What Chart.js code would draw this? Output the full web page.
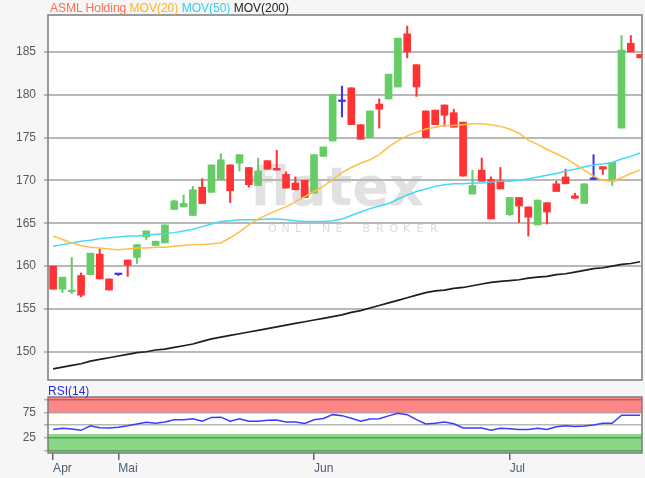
<!DOCTYPE html>
<html><head><meta charset="utf-8">
<script src="https://cdn.jsdelivr.net/npm/chart.js@4"></script>
<style>
html,body{margin:0;padding:0;background:#f6f6f6;width:645px;height:478px;overflow:hidden;font-family:"Liberation Sans",Arial,sans-serif;}
#wrap{position:relative;width:645px;height:478px;}
#main{position:absolute;left:0;top:0;}
#rsi{position:absolute;left:0;top:381px;}
#title{position:absolute;left:50px;top:1px;font-size:12px;line-height:14px;white-space:nowrap;}
#rsiLbl{position:absolute;left:48px;top:384px;font-size:12px;line-height:14px;color:#2a2ae8;}
</style></head>
<body><div id="wrap">
<canvas id="main" width="645" height="381"></canvas>
<canvas id="rsi" width="645" height="97"></canvas>
<div id="title"><span style="color:#ff6f4f">ASML Holding</span> <span style="color:#ffb128">MOV(20)</span> <span style="color:#33ccf2">MOV(50)</span> <span style="color:#222">MOV(200)</span></div>
<div id="rsiLbl">RSI(14)</div>
</div>
<script>
// ---- data ----
const opens  = [160.0,157.3,157.0,158.9,159.0,161.4,158.5,159.0,160.7,161.0,163.4,162.4,162.7,166.6,166.9,165.9,169.2,168.6,170.1,171.8,172.0,171.5,169.4,172.3,171.4,170.7,169.7,170.0,168.5,172.8,174.6,179.2,180.8,176.5,175.0,178.9,179.5,180.9,187.1,183.5,178.1,178.2,178.8,177.9,176.8,168.4,171.2,170.1,170.0,166.0,168.0,166.9,164.8,167.4,169.6,170.4,168.2,167.3,170.1,171.6,169.9,176.1,186.0,184.7];
const highs  = [160.0,158.7,161.0,159.2,161.5,162.0,158.5,159.1,160.7,162.5,164.1,162.9,164.8,167.7,168.3,169.3,170.2,171.8,173.1,171.8,173.0,171.5,172.6,172.3,173.5,171.0,170.4,170.0,173.0,173.9,180.0,181.0,180.8,176.5,178.1,179.5,182.4,186.6,188.0,183.5,178.1,178.2,178.8,178.3,176.8,171.2,172.6,170.4,171.5,168.0,168.0,166.9,167.7,167.4,169.9,171.3,168.5,169.6,173.0,171.6,172.1,186.9,186.9,184.7];
const lows   = [157.3,156.9,156.8,156.4,159.0,158.5,157.2,158.9,158.8,160.3,163.1,162.4,162.7,166.6,166.9,165.9,167.3,168.6,170.1,167.4,171.1,169.2,169.4,171.3,171.2,169.1,168.9,168.0,168.5,172.8,174.6,177.4,176.5,174.8,175.0,176.1,179.5,180.9,184.3,179.8,175.0,176.5,176.3,176.2,170.5,168.4,169.9,165.5,169.0,165.9,165.1,163.5,164.8,164.9,168.7,169.6,167.9,167.3,170.1,170.7,169.4,176.1,185.0,184.3];
const closes = [157.3,158.7,157.1,156.6,161.5,158.5,157.2,159.0,160.1,162.5,164.1,162.9,164.8,167.6,167.3,168.9,167.3,171.8,172.4,168.8,173.0,169.5,171.1,171.3,171.2,169.1,168.9,168.0,173.0,173.9,180.0,179.2,176.5,174.8,178.1,178.3,182.4,186.6,185.0,180.9,175.0,176.5,177.6,176.2,170.5,169.4,169.9,165.5,169.0,168.0,167.0,165.7,167.7,166.3,168.7,169.6,167.9,169.6,170.1,171.3,172.1,185.2,185.0,184.3];
const mov20  = [163.5,163.1,162.7,162.4,162.2,162.1,162.0,161.9,162.0,162.1,162.1,162.2,162.2,162.3,162.4,162.5,162.5,162.6,162.7,163.3,164.0,164.8,165.5,166.0,166.5,166.9,167.5,168.1,168.7,169.3,170.1,170.9,171.5,172.0,172.4,173.0,173.9,174.6,175.2,175.6,176.0,176.2,176.4,176.4,176.5,176.6,176.6,176.5,176.3,176.0,175.5,174.7,174.2,173.6,173.1,172.6,171.9,171.2,170.5,170.0,169.9,170.3,170.8,171.2];
const mov50  = [162.3,162.5,162.7,162.9,163.0,163.2,163.3,163.4,163.5,163.5,163.6,163.7,163.8,163.9,164.1,164.3,164.6,164.9,165.2,165.3,165.4,165.4,165.4,165.5,165.5,165.4,165.3,165.2,165.2,165.2,165.3,165.5,165.9,166.3,166.7,167.0,167.3,167.8,168.3,168.7,169.0,169.3,169.5,169.6,169.6,169.7,169.7,169.8,169.9,169.9,170.0,170.2,170.4,170.6,170.8,171.1,171.3,171.6,171.8,171.9,172.1,172.5,172.8,173.2];
const mov200 = [148.0,148.2,148.4,148.6,148.9,149.1,149.3,149.5,149.7,149.9,150.0,150.2,150.3,150.5,150.7,150.9,151.2,151.5,151.7,151.9,152.1,152.3,152.5,152.7,152.9,153.1,153.3,153.5,153.7,153.9,154.1,154.3,154.6,154.8,155.1,155.4,155.7,156.0,156.3,156.6,156.9,157.1,157.2,157.4,157.5,157.7,157.9,158.1,158.2,158.3,158.4,158.6,158.7,158.8,159.0,159.1,159.3,159.5,159.7,159.8,160.0,160.2,160.3,160.5];
const rsi14  = [41,43.5,42,39.5,48.5,44.5,44,45.5,48.5,52,55.5,53.5,56,60.5,60.5,62.5,57.5,65,65.5,57.5,62.5,57.5,57.5,59.5,60,56,56,53,60.5,63,70.5,68.5,63.5,57.5,62,62.5,68,73.4,70.5,60.5,52,53.4,55.7,52.5,44,44,44,39.5,43.6,42.8,41,41.2,43.5,41,46.4,48.5,47,48,50,53.4,53.4,69.4,69.4,69.4];
const priceTicks = [150,155,160,165,170,175,180,185];
const monthLabels = ['Apr','Mai','Jun','Jul'];
const monthTickIdx = [0,7,28,49];
const rsiTicks = [0,25,50,75,100];
const rsiShownLabels = [25,75];
const rsiOverbought = 75, rsiOversold = 32;

// ---- styling ----
const UP='#66cc66', DOWN='#ff3333', FLAT='#4433ee';
const candleColor = opens.map((o,i)=> closes[i]>o ? UP : (closes[i]<o ? DOWN : FLAT));
const FONT = {family:'"Liberation Sans", Arial, sans-serif', size:12};
const XMIN=-0.55, XMAX=63.2;

const frame = {
  id:'frame',
  beforeDraw(c, a, o){
    const {ctx, chartArea:ca} = c;
    ctx.save();
    ctx.fillStyle='#ffffff';
    ctx.fillRect(ca.left, ca.top, ca.right-ca.left, ca.bottom-ca.top);
    if (o.bands){
      const y=c.scales.y;
      ctx.fillStyle='#ff8686';
      const yOB=y.getPixelForValue(rsiOverbought);
      ctx.fillRect(ca.left, ca.top, ca.right-ca.left, yOB-ca.top);
      ctx.fillStyle='#88d886';
      const yOS=y.getPixelForValue(rsiOversold);
      ctx.fillRect(ca.left, yOS, ca.right-ca.left, ca.bottom-yOS);
    }
    if (o.watermark){
      ctx.fillStyle='#e1e1e1';
      ctx.font='bold 54px "DejaVu Sans", sans-serif';
      ctx.textBaseline='alphabetic';
      ctx.fillText('flatex', 250, 205);
      ctx.fillStyle='#dcdcdc';
      ctx.font='11px "DejaVu Sans", sans-serif';
      const s='ONLINE BROKER'; let x=268;
      for (const ch of s){ ctx.fillText(ch, x, 232); x+=13.5; }
    }
    ctx.restore();
  },
  afterDraw(c){
    const {ctx, chartArea:ca} = c;
    ctx.save();
    ctx.strokeStyle='#7c7c7c'; ctx.lineWidth=1.5;
    ctx.strokeRect(ca.left, ca.top, ca.right-ca.left, ca.bottom-ca.top);
    ctx.restore();
  }
};

const yFit = s => { s.width = 48; s.paddingTop = 0; s.paddingBottom = 0; };
const pts = arr => arr.map((v,i)=>({x:i, y:v}));

new Chart(document.getElementById('main'), {
  type:'bar',
  data:{
    datasets:[
      {type:'line', data:pts(mov20), borderColor:'#ffbf45', borderWidth:1.5, pointRadius:0, order:0},
      {type:'line', data:pts(mov50), borderColor:'#45d8fa', borderWidth:1.5, pointRadius:0, order:0},
      {type:'line', data:pts(mov200), borderColor:'#1e1e1e', borderWidth:1.7, pointRadius:0, order:0},
      {type:'bar', data:opens.map((o,i)=>({x:i, y:[o, closes[i]]})), backgroundColor:candleColor,
        barThickness:7, grouped:false, minBarLength:1.6, borderWidth:0, order:1},
      {type:'bar', data:lows.map((l,i)=>({x:i, y:[l, highs[i]]})), backgroundColor:candleColor,
        barThickness:1.4, grouped:false, borderWidth:0, order:2}
    ]
  },
  options:{
    responsive:false, animation:false, events:[],
    layout:{padding:{left:0,right:3,top:15,bottom:1}},
    plugins:{legend:{display:false}, tooltip:{enabled:false}, frame:{watermark:true}},
    scales:{
      x:{type:'linear', min:XMIN, max:XMAX, display:false, offset:false, grid:{offset:false}},
      y:{type:'linear', min:146.7, max:189.3, beginAtZero:false, grace:0,
        afterFit:yFit,
        afterBuildTicks:s=>{s.ticks=priceTicks.map(v=>({value:v}));},
        grid:{color:'#b8b8b8', lineWidth:2, tickLength:4},
        border:{display:false},
        ticks:{font:FONT, color:'#5a5a5a', padding:8, autoSkip:false}
      }
    }
  },
  plugins:[frame]
});

new Chart(document.getElementById('rsi'), {
  type:'line',
  data:{
    datasets:[
      {data:pts(rsi14), borderColor:'#3b3bff', borderWidth:1.5, pointRadius:0}
    ]
  },
  options:{
    responsive:false, animation:false, events:[],
    layout:{padding:{left:0,right:3,top:16,bottom:0}},
    plugins:{legend:{display:false}, tooltip:{enabled:false}, frame:{bands:true}},
    scales:{
      x:{type:'linear', min:XMIN, max:XMAX, position:'bottom',
        afterFit:s=>{s.height=25;},
        afterBuildTicks:s=>{s.ticks=monthTickIdx.map(v=>({value:v}));},
        grid:{drawOnChartArea:false, tickLength:7, color:'#666', lineWidth:1.5},
        border:{display:false},
        ticks:{font:FONT, color:'#4b5d6e', align:'start', padding:1, maxRotation:0, autoSkip:false,
          callback:(v,i)=>monthLabels[i]}
      },
      y:{type:'linear', min:-5.4, max:105.4,
        afterFit:yFit,
        afterBuildTicks:s=>{s.ticks=rsiTicks.map(v=>({value:v}));},
        grid:{color:'rgba(0,0,0,0.28)', lineWidth:1.5, tickLength:4},
        border:{display:false},
        ticks:{font:FONT, color:'#5a5a5a', padding:8, autoSkip:false,
          callback:v=> rsiShownLabels.includes(v) ? String(v) : ''}
      }
    }
  },
  plugins:[frame]
});
</script>
</body></html>
